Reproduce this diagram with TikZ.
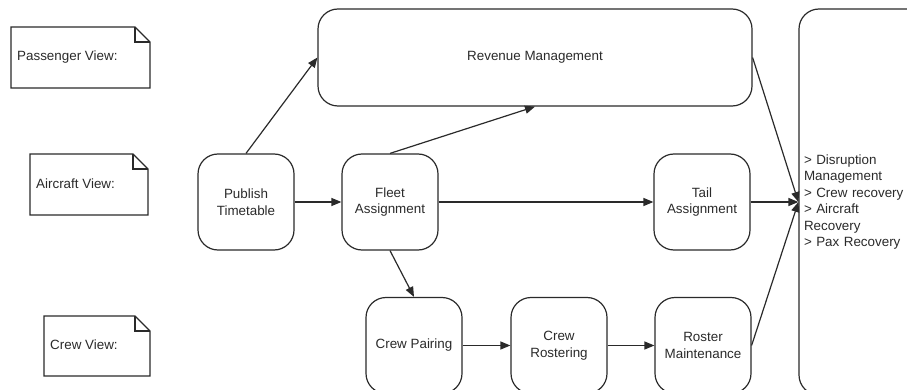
\documentclass[tikz,border=0pt]{standalone}
\usepackage{fontspec}
\setmainfont{Liberation Sans}
\usetikzlibrary{arrows.meta}
\definecolor{ink}{HTML}{2A2A2A}
\begin{document}
\begin{tikzpicture}[x=1pt,y=-1pt,
  every node/.style={font=\fontsize{13.4}{16.5}\selectfont, text=ink},
  procbox/.style={draw=ink, line width=1.2pt, rounded corners=20pt,
    minimum width=96pt, minimum height=96pt, inner sep=2pt, align=center},
  flow/.style={draw=ink, line width=1.2pt, -{Triangle[length=10pt,width=8pt]}},
  notebox/.style={draw=ink, line width=1.2pt, line join=miter},
  notetext/.style={anchor=west, inner sep=0pt}
]
\useasboundingbox (0,0) rectangle (907,390);

% view labels drawn as folded-corner notes
\draw[notebox] (11,27) -- (135,27) -- (150,42) -- (150,88) -- (11,88) -- cycle;
\draw[notebox] (135,27) -- (135,42) -- (150,42);
\node[notetext] (pv) at (17,57) {Passenger View:};

\draw[notebox] (30,154) -- (133,154) -- (148,169) -- (148,215) -- (30,215) -- cycle;
\draw[notebox] (133,154) -- (133,169) -- (148,169);
\node[notetext] (av) at (36,184) {Aircraft View:};

\draw[notebox] (44,316) -- (135,316) -- (150,331) -- (150,376) -- (44,376) -- cycle;
\draw[notebox] (135,316) -- (135,331) -- (150,331);
\node[notetext] (cv) at (50,345) {Crew View:};

% planning stages
\node[procbox, minimum width=434pt, minimum height=97pt] (rev) at (535,57.5) {Revenue Management};
\node[procbox] (pt) at (246,202) {Publish\\Timetable};
\node[procbox] (fa) at (390,202) {Fleet\\Assignment};
\node[procbox] (ta) at (702,202) {Tail\\Assignment};
\node[procbox] (cp) at (414,345.5) {Crew Pairing};
\node[procbox] (cr) at (559,345.5) {Crew\\Rostering};
\node[procbox] (rm) at (703,345.5) {Roster\\Maintenance};

% operations stage
\node[draw=ink, line width=1.2pt, rounded corners=20pt, minimum width=136pt,
  minimum height=386pt, text width=126pt, inner xsep=5pt, align=left] (dm) at (867,202)
  {> Disruption\\Management\\> Crew recovery\\> Aircraft\\Recovery\\> Pax Recovery};

% connectors
\draw[flow] (pt.north) -- (rev.west);
\draw[flow] (pt.east) -- (fa.west);
\draw[flow] (fa.north) -- (rev.south);
\draw[flow] (fa.east) -- (ta.west);
\draw[flow] (fa.south) -- (cp.north);
\draw[flow] (cp.east) -- (cr.west);
\draw[flow] (cr.east) -- (rm.west);
\draw[flow] (rev.east) -- (dm.west);
\draw[flow] (ta.east) -- (dm.west);
\draw[flow] (rm.east) -- (dm.west);
\end{tikzpicture}
\end{document}
